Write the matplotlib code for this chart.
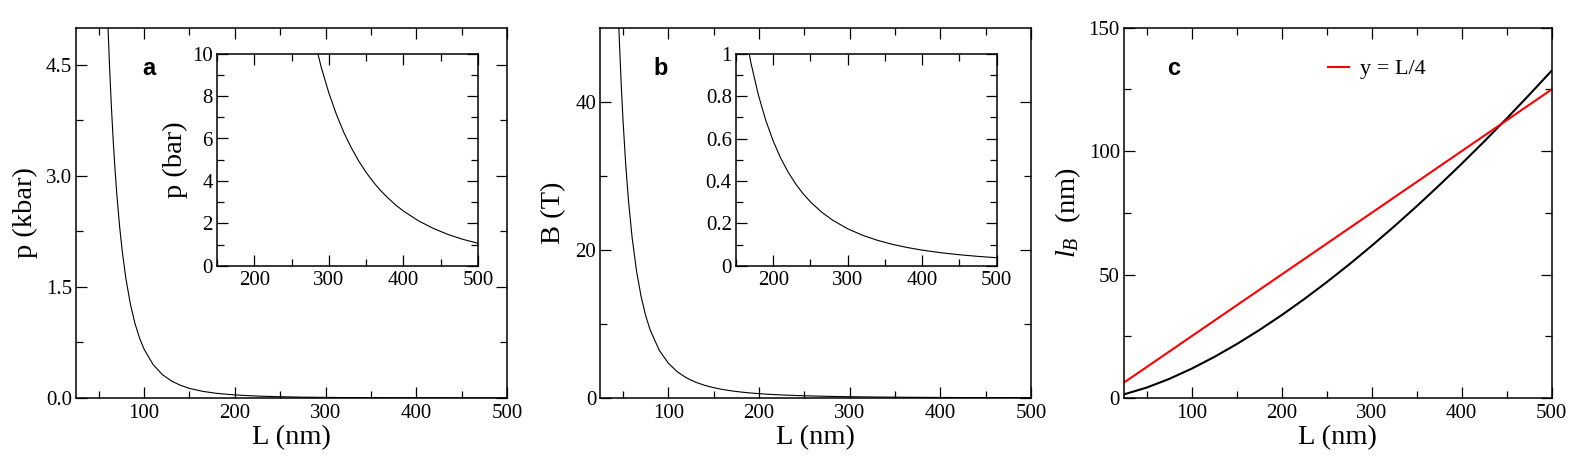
import matplotlib
matplotlib.use("Agg")
import matplotlib.pyplot as plt
import numpy as np

plt.rcParams['font.family'] = ['Liberation Serif', 'DejaVu Serif']
plt.rcParams['mathtext.fontset'] = 'custom'
plt.rcParams['mathtext.rm'] = 'Liberation Serif'
plt.rcParams['mathtext.it'] = 'Liberation Serif:italic'

# ---- data ----
# panel a: pressure p in kbar vs L (nm)
L_a = [58, 60, 62, 64, 66, 68, 70, 73, 76, 80, 85, 90, 95, 100, 110, 120, 130,
       140, 150, 165, 180, 200, 225, 250, 270, 280, 290, 300, 310, 320, 330,
       340, 350, 360, 370, 380, 390, 400, 420, 440, 460, 480, 500]
p_kbar = [5.83, 5.093, 4.467, 3.934, 3.478, 3.087, 2.749, 2.324, 1.978, 1.611,
          1.264, 1.006, 0.810, 0.660, 0.451, 0.318, 0.231, 0.172, 0.130, 0.0890,
          0.0629, 0.0413, 0.0258, 0.0169, 0.01242, 0.01074, 0.00933, 0.00815,
          0.00715, 0.00629, 0.00557, 0.00494, 0.00440, 0.00393, 0.00352,
          0.00317, 0.00285, 0.00258, 0.00212, 0.00176, 0.00147, 0.00124, 0.00106]

# panel b: field B in tesla vs L (nm)
L_b = [44, 46, 48, 50, 53, 56, 60, 65, 70, 75, 80, 90, 100, 110, 120, 130, 140,
       150, 160, 170, 180, 190, 200, 210, 220, 230, 240, 250, 265, 280, 300,
       320, 340, 360, 380, 400, 425, 450, 475, 500]
B_T = [55.2, 48.3, 42.5, 37.6, 31.57, 26.76, 21.76, 17.11, 13.70, 11.14, 9.18,
       6.45, 4.70, 3.53, 2.72, 2.14, 1.713, 1.393, 1.147, 0.957, 0.806, 0.685,
       0.5875, 0.5075, 0.4414, 0.3863, 0.340, 0.3008, 0.2526, 0.2141, 0.1741,
       0.1434, 0.1196, 0.1007, 0.0857, 0.0734, 0.0612, 0.0516, 0.0439, 0.0376]

# panel c: l_B (nm) vs L (nm), and reference line y = L/4
L_c = [25, 50, 75, 100, 125, 150, 175, 200, 225, 250, 275, 300, 325, 350, 375,
       400, 425, 450, 475, 500]
lB = [1.48, 4.19, 7.70, 11.86, 16.57, 21.79, 27.46, 33.54, 40.03, 46.88, 54.08,
      61.63, 69.49, 77.66, 86.12, 94.88, 103.91, 113.2, 122.8, 132.6]
L_line = [25, 500]
y_line = [6.25, 125.0]

TICK_FS = 15
LABEL_FS = 20.5

fig = plt.figure(figsize=(15.94, 4.71), dpi=100)


def style(ax, major_len=8, minor_len=5, fs=TICK_FS):
    for s in ax.spines.values():
        s.set_linewidth(1.1)
    ax.tick_params(which='both', direction='in', top=True, right=True,
                   width=0.9, labelsize=fs)
    ax.tick_params(which='major', length=major_len)
    ax.tick_params(which='minor', length=minor_len)
    ax.tick_params(axis='x', pad=4)
    ax.tick_params(axis='y', pad=3)


bottom, height = 73 / 471, 370.3 / 471

# ---------------- panel a ----------------
axa = fig.add_axes([76 / 1594, bottom, 431 / 1594, height])
axa.plot(L_a, p_kbar, color='black', lw=0.8)
axa.set_xlim(25, 500)
axa.set_ylim(0, 5)
axa.set_xticks([100, 200, 300, 400, 500])
axa.set_xticks(np.arange(50, 500, 50), minor=True)
axa.set_yticks([0, 1.5, 3.0, 4.5])
axa.set_yticklabels(['0.0', '1.5', '3.0', '4.5'])
axa.set_yticks([0.75, 2.25, 3.75], minor=True)
style(axa)
axa.set_xlabel('L (nm)', fontsize=LABEL_FS)
axa.set_ylabel('p (kbar)', fontsize=LABEL_FS)
axa.xaxis.set_label_coords(0.5, -0.072)
axa.yaxis.set_label_coords(-0.088, 0.5)
axa.text(0.169, 0.891, 'a', transform=axa.transAxes, fontsize=17,
         fontweight='bold', family='Liberation Sans', ha='center', va='center')

ina = fig.add_axes([217 / 1594, (471 - 265.7) / 471, 261 / 1594, 212 / 471])
ina.plot(L_a, [v * 1000 for v in p_kbar], color='black', lw=0.8)
ina.set_xlim(150, 500)
ina.set_ylim(0, 10)
ina.set_xticks([200, 300, 400, 500])
ina.set_xticks([150, 250, 350, 450], minor=True)
ina.set_yticks([0, 2, 4, 6, 8, 10])
ina.set_yticks([1, 3, 5, 7, 9], minor=True)
style(ina)
ina.set_ylabel('p (bar)', fontsize=LABEL_FS)
ina.yaxis.set_label_coords(-0.111, 0.5)

# ---------------- panel b ----------------
axb = fig.add_axes([600.3 / 1594, bottom, 430.7 / 1594, height])
axb.plot(L_b, B_T, color='black', lw=0.8)
axb.set_xlim(25, 500)
axb.set_ylim(0, 50)
axb.set_xticks([100, 200, 300, 400, 500])
axb.set_xticks(np.arange(50, 500, 50), minor=True)
axb.set_yticks([0, 20, 40])
axb.set_yticks([10, 30], minor=True)
style(axb)
axb.set_xlabel('L (nm)', fontsize=LABEL_FS)
axb.set_ylabel('B (T)', fontsize=LABEL_FS)
axb.xaxis.set_label_coords(0.5, -0.072)
axb.yaxis.set_label_coords(-0.080, 0.5)
axb.text(0.139, 0.891, 'b', transform=axb.transAxes, fontsize=17,
         fontweight='bold', family='Liberation Sans', ha='center', va='center')

inb = fig.add_axes([736 / 1594, (471 - 265.7) / 471, 260.7 / 1594, 212 / 471])
inb.plot(L_b, B_T, color='black', lw=0.8)
inb.set_xlim(150, 500)
inb.set_ylim(0, 1)
inb.set_xticks([200, 300, 400, 500])
inb.set_xticks([150, 250, 350, 450], minor=True)
inb.set_yticks([0, 0.2, 0.4, 0.6, 0.8, 1.0])
inb.set_yticklabels(['0', '0.2', '0.4', '0.6', '0.8', '1'])
inb.set_yticks([0.1, 0.3, 0.5, 0.7, 0.9], minor=True)
style(inb)

# ---------------- panel c ----------------
axc = fig.add_axes([1124 / 1594, bottom, 427.7 / 1594, height])
axc.plot(L_c, lB, color='black', lw=1.5)
axc.plot(L_line, y_line, color='#ff0000', lw=1.5, label='y = L/4')
axc.set_xlim(25, 500)
axc.set_ylim(0, 150)
axc.set_xticks([100, 200, 300, 400, 500])
axc.set_xticks(np.arange(50, 500, 50), minor=True)
axc.set_yticks([0, 50, 100, 150])
axc.set_yticks([25, 75, 125], minor=True)
style(axc)
axc.set_xlabel('L (nm)', fontsize=LABEL_FS)
axc.set_ylabel(r'$l_B$  (nm)', fontsize=LABEL_FS)
axc.xaxis.set_label_coords(0.5, -0.072)
axc.yaxis.set_label_coords(-0.096, 0.5)
axc.text(0.117, 0.891, 'c', transform=axc.transAxes, fontsize=17,
         fontweight='bold', family='Liberation Sans', ha='center', va='center')
leg = axc.legend(loc='center left', bbox_to_anchor=(0.477, 0.888), frameon=False,
                 fontsize=16, handlelength=0.95, handletextpad=0.5,
                 borderaxespad=0, borderpad=0)

fig.savefig('out.png', dpi=100)
